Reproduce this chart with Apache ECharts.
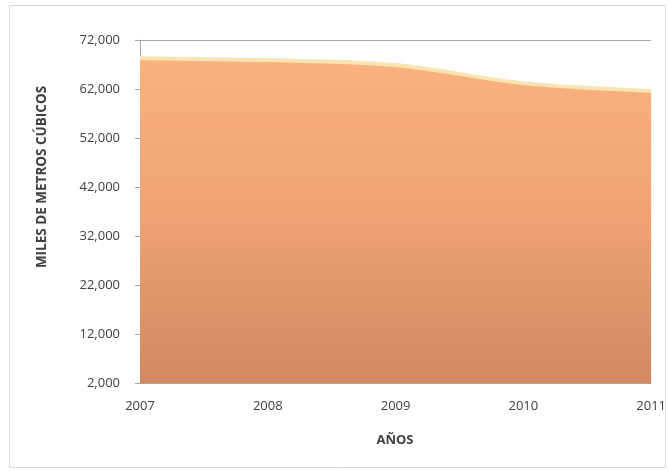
<!DOCTYPE html>
<html><head><meta charset="utf-8">
<script src="https://cdn.jsdelivr.net/npm/echarts@6/dist/echarts.min.js"></script>
<style>html,body{margin:0;padding:0;background:#fff}#c{width:669px;height:471px}</style>
</head><body><div id="c"></div>
<script>
const years = ['2007', '2008', '2009', '2010', '2011'];
const volumes = [68300, 67900, 66900, 63200, 61600];
const yTitle = 'MILES DE METROS CÚBICOS';
const xTitle = 'AÑOS';

const chart = echarts.init(document.getElementById('c'));
chart.setOption({
  animation: false,
  backgroundColor: '#fff',
  grid: { left: 140, right: 17, top: 40, bottom: 88 },
  graphic: [
    { type: 'rect', shape: { x: 9.5, y: 5.5, width: 656, height: 462 }, style: { fill: 'none', stroke: '#d9d9d9', lineWidth: 1 }, z: -1 },
    { type: 'text', x: 42, y: 177, rotation: Math.PI / 2, style: { text: yTitle, font: 'bold 13.5px "Open Sans"', fill: '#404040', align: 'center', verticalAlign: 'middle' } },
    { type: 'text', x: 395, y: 440, style: { text: xTitle, font: 'bold 13px "Open Sans"', fill: '#404040', align: 'center', verticalAlign: 'middle' } }
  ],
  xAxis: {
    type: 'category', data: years, boundaryGap: false,
    axisLine: { show: false }, axisTick: { show: false },
    axisLabel: { color: '#404040', fontFamily: 'Open Sans', fontSize: 13, margin: 17 }
  },
  yAxis: {
    type: 'value', min: 2000, max: 72000, interval: 10000,
    axisLine: { show: true, lineStyle: { color: '#a6a6a6' } },
    axisTick: { show: true, length: 5, lineStyle: { color: '#a6a6a6' } },
    splitLine: { show: true, lineStyle: { color: '#a6a6a6' } },
    axisLabel: { color: '#404040', fontFamily: 'Open Sans', fontSize: 13, margin: 20,
      formatter: v => v.toLocaleString('en-US') }
  },
  series: [{
    type: 'line', data: volumes, smooth: 0.3, symbol: 'none',
    lineStyle: { color: '#fde3b0', width: 4 },
    areaStyle: {
      opacity: 1,
      color: { type: 'linear', x: 0, y: 0, x2: 0, y2: 1, colorStops: [
        { offset: 0, color: '#fbb27e' }, { offset: 0.5, color: '#eea273' }, { offset: 1, color: '#d08962' }
      ] }
    }
  }]
});
</script></body></html>
